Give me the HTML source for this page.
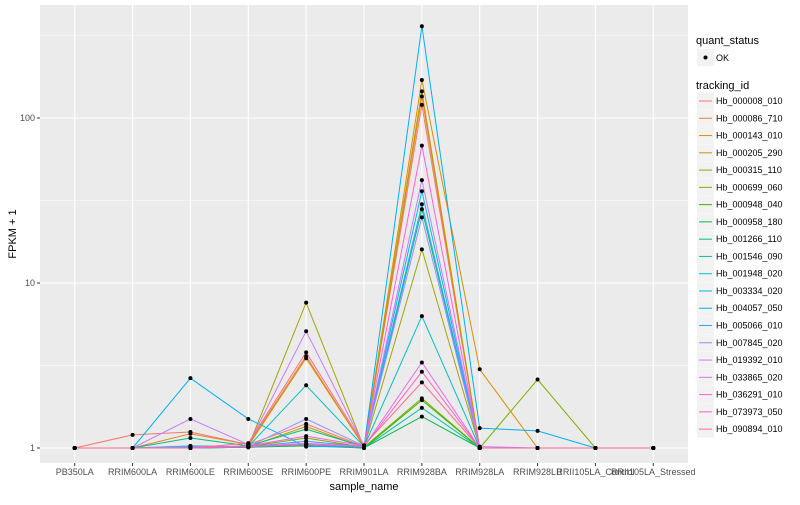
<!DOCTYPE html>
<html><head><meta charset="utf-8"><style>
body{margin:0;background:#fff;font-family:"Liberation Sans",sans-serif}
svg text{font-family:"Liberation Sans",sans-serif}
</style></head><body>
<svg id="chart" width="800" height="500" xmlns="http://www.w3.org/2000/svg">
<rect x="0" y="0" width="800" height="500" fill="#fff"/>
<g id="panel"></g>
<g id="legend"></g>
</svg>
<script>
const samples=["PB350LA","RRIM600LA","RRIM600LE","RRIM600SE","RRIM600PE","RRIM901LA","RRIM928BA","RRIM928LA","RRIM928LB","RRII105LA_Control","RRII105LA_Stressed"];
const trackingIds=["Hb_000008_010","Hb_000086_710","Hb_000143_010","Hb_000205_290","Hb_000315_110","Hb_000699_060","Hb_000948_040","Hb_000958_180","Hb_001266_110","Hb_001546_090","Hb_001948_020","Hb_003334_020","Hb_004057_050","Hb_005066_010","Hb_007845_020","Hb_019392_010","Hb_033865_020","Hb_036291_010","Hb_073973_050","Hb_090894_010"];
const colors=["#F8766D","#EA8331","#D89000","#C09B00","#A3A500","#7CAE00","#39B600","#00BB4E","#00BF7D","#00C1A3","#00BFC4","#00BAE0","#00B0F6","#35A2FF","#9590FF","#C77CFF","#E76BF3","#FA62DB","#FF62BC","#FF6C91"];
const s00=[1,1.2,1.25,1.05,1.4,1.02,120,1,1,1,1];
const s01=[1,1,1.22,1.05,3.6,1.02,135,1,1,1,1];
const s02=[1,1,1,1.03,3.5,1.02,170,3.0,1,1,1];
const s03=[1,1,1,1.02,1.35,1.01,145,1,1,1,1];
const s04=[1,1,1,1.02,7.6,1.01,16,1,1,1,1];
const s05=[1,1,1,1.02,1.15,1.01,2.0,1,2.6,1,1];
const s06=[1,1,1,1.01,1.05,1.0,1.95,1,1,1,1];
const s07=[1,1,1,1.01,1.03,1.0,1.55,1,1,1,1];
const s08=[1,1,1.15,1.03,1.3,1.02,28,1,1,1,1];
const s09=[1,1,1,1.01,1.05,1.0,1.75,1,1,1,1];
const s10=[1,1,1,1.02,2.4,1.02,6.3,1,1,1,1];
const s11=[1,1,1.03,1.02,1.05,1.02,36,1,1,1,1];
const s12=[1,1,2.65,1.5,1.02,1.02,360,1.32,1.27,1,1];
const s13=[1,1,1.01,1.02,1.1,1.02,30,1,1,1,1];
const s14=[1,1,1.02,1.02,1.5,1.03,25,1,1,1,1];
const s15=[1,1,1.5,1.05,5.1,1.03,42,1.02,1,1,1];
const s16=[1,1,1,1.02,1.07,1.02,3.3,1,1,1,1];
const s17=[1,1,1,1.03,1.18,1.03,68,1,1,1,1];
const s18=[1,1,1,1.02,1.05,1.02,2.9,1,1,1,1];
const s19=[1,1,1,1.07,3.8,1.04,2.5,1,1,1,1];
const series=[s00,s01,s02,s03,s04,s05,s06,s07,s08,s09,s10,s11,s12,s13,s14,s15,s16,s17,s18,s19];
const yTicks=[1,10,100];
const yTickLabels=["1","10","100"];

const NS="http://www.w3.org/2000/svg";
const P={l:40,r:688,t:5,b:463};
const xs=i=>P.l+(0.6+i)*(P.r-P.l)/(samples.length-1+1.2);
const ys=v=>448-165*Math.log10(v);
function mk(tag,attrs,parent){const e=document.createElementNS(NS,tag);for(const k in attrs)e.setAttribute(k,attrs[k]);parent.appendChild(e);return e;}
const panel=document.getElementById('panel');
const bg=mk('rect',{x:P.l,y:P.t,width:P.r-P.l,height:P.b-P.t,fill:'#EBEBEB'},panel);


// minor grid
for(let k=0;k<yTicks.length;k++){
  const y=ys(yTicks[k]*Math.sqrt(10));
  const g=mk('line',{x1:P.l,x2:P.r,y1:y,y2:y,stroke:'#fff','stroke-width':0.5},panel);
  
  
}
yTicks.forEach((t,k)=>{
  const y=ys(t);
  const g=mk('line',{x1:P.l,x2:P.r,y1:y,y2:y,stroke:'#fff','stroke-width':1.1},panel);
  
  
  const tk=mk('line',{x1:P.l-3,x2:P.l,y1:y,y2:y,stroke:'#333','stroke-width':1},panel);
  
  
  const tx=mk('text',{x:P.l-5,y:y+3,'text-anchor':'end','font-size':9,fill:'#4D4D4D'},panel);
  tx.textContent=yTickLabels[k];
  
  
});
samples.forEach((s,i)=>{
  const x=xs(i);
  const g=mk('line',{x1:x,x2:x,y1:P.t,y2:P.b,stroke:'#fff','stroke-width':1.1},panel);
  
  
  const tk=mk('line',{x1:x,x2:x,y1:P.b,y2:P.b+3,stroke:'#333','stroke-width':1},panel);
  
  
  const tx=mk('text',{x:x,y:P.b+12,'text-anchor':'middle','font-size':9,fill:'#4D4D4D'},panel);
  tx.textContent=s;
  
  
});
series.forEach((vals,si)=>{
  const pts=vals.map((v,i)=>xs(i).toFixed(1)+','+ys(v).toFixed(1)).join(' ');
  const pl=mk('polyline',{points:pts,fill:'none',stroke:colors[si],'stroke-width':1},panel);
  
  
});
series.forEach((vals,si)=>{
  vals.forEach((v,i)=>{
    const c=mk('circle',{cx:xs(i),cy:ys(v),r:2,fill:'#000'},panel);
    
    
  });
});
const xt=mk('text',{x:(P.l+P.r)/2,y:490,'text-anchor':'middle','font-size':11,fill:'#000'},panel);
xt.textContent='sample_name';


const yt=mk('text',{x:0,y:0,'text-anchor':'middle','font-size':11,fill:'#000',transform:'translate(16,234) rotate(-90)'},panel);
yt.textContent='FPKM + 1';



const lg=document.getElementById('legend');
const t1=mk('text',{x:696,y:44,'font-size':11,fill:'#000'},lg);
t1.textContent='quant_status';


const k1=mk('rect',{x:697,y:49,width:17,height:17,fill:'#F2F2F2'},lg);


const d1=mk('circle',{cx:705.5,cy:57.5,r:2,fill:'#000'},lg);


const o1=mk('text',{x:716,y:61,'font-size':9,fill:'#000'},lg);
o1.textContent='OK';


const t2=mk('text',{x:696,y:89,'font-size':11,fill:'#000'},lg);
t2.textContent='tracking_id';


trackingIds.forEach((id,i)=>{
  const cy=101+i*17.27;
  const r=mk('rect',{x:697,y:cy-8.5,width:17,height:17,fill:'#F2F2F2'},lg);
  
  
  const l=mk('line',{x1:699,x2:712,y1:cy,y2:cy,stroke:colors[i],'stroke-width':1},lg);
  
  
  const tx=mk('text',{x:716,y:cy+3,'font-size':9,fill:'#000'},lg);
  tx.textContent=id;
  
  
});
</script>
</body></html>
